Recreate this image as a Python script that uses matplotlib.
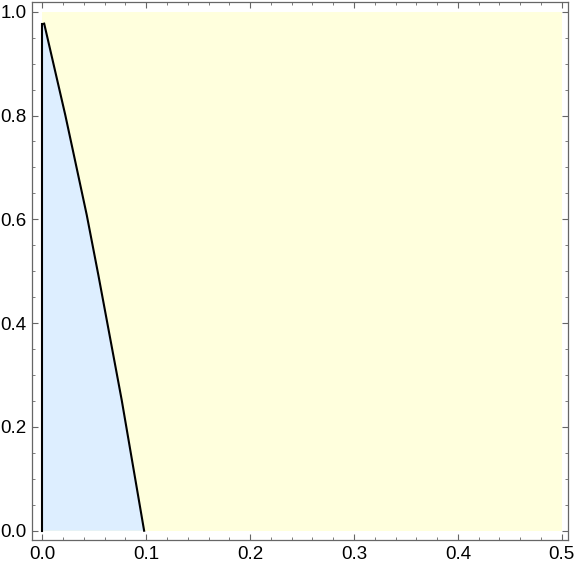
import matplotlib.pyplot as plt
from matplotlib.ticker import MultipleLocator

# outer region (yellow) corners
outer_x = [0.0, 0.5, 0.5, 0.0]
outer_y = [0.0, 0.0, 1.0, 1.0]

# inner region (blue): left edge x=0, right edge is the curve
curve_y = [0.0, 0.252, 0.492, 0.608, 0.734, 0.801, 0.977]
curve_x = [0.098, 0.0764, 0.054, 0.0428, 0.0293, 0.0221, 0.0018]

plt.rcParams['font.family'] = ['Liberation Sans', 'DejaVu Sans']

fig = plt.figure(figsize=(5.76, 5.69), dpi=100)
ax = fig.add_axes([0.0556, 0.0504, 0.9300, 0.9461])

ax.fill(outer_x, outer_y, color='#FFFFDD', lw=0, zorder=1)

# blue polygon: up the x=0 edge, then back down along the curve
ax.fill([0.0, 0.0] + curve_x[::-1], [0.0, curve_y[-1]] + curve_y[::-1],
        color='#DDEEFF', lw=0, zorder=2)

# boundary lines
ax.plot([0.0, 0.0], [0.0, curve_y[-1]], color='black', lw=1.5, zorder=3)
ax.plot(curve_x, curve_y, color='black', lw=1.5, zorder=3,
        solid_joinstyle='round')
ax.plot([0.0, curve_x[-1]], [curve_y[-1], curve_y[-1]], color='black', lw=1.2, zorder=3)

ax.set_xlim(-0.0099, 0.5057)
ax.set_ylim(-0.0185, 1.0187)

ax.xaxis.set_major_locator(MultipleLocator(0.1))
ax.xaxis.set_minor_locator(MultipleLocator(0.02))
ax.yaxis.set_major_locator(MultipleLocator(0.2))
ax.yaxis.set_minor_locator(MultipleLocator(0.05))
ax.xaxis.set_major_formatter(lambda v, p: f"{v:.1f}")
ax.yaxis.set_major_formatter(lambda v, p: f"{v:.1f}")

ax.tick_params(which='both', direction='in', top=True, right=True,
               color='#666666', labelsize=13.5, pad=4)
ax.tick_params(which='major', length=4.5, width=0.8)
ax.tick_params(which='minor', length=2.5, width=0.6)
for s in ax.spines.values():
    s.set_color('#666666')
    s.set_linewidth(0.9)

fig.savefig('out.png', dpi=100)
